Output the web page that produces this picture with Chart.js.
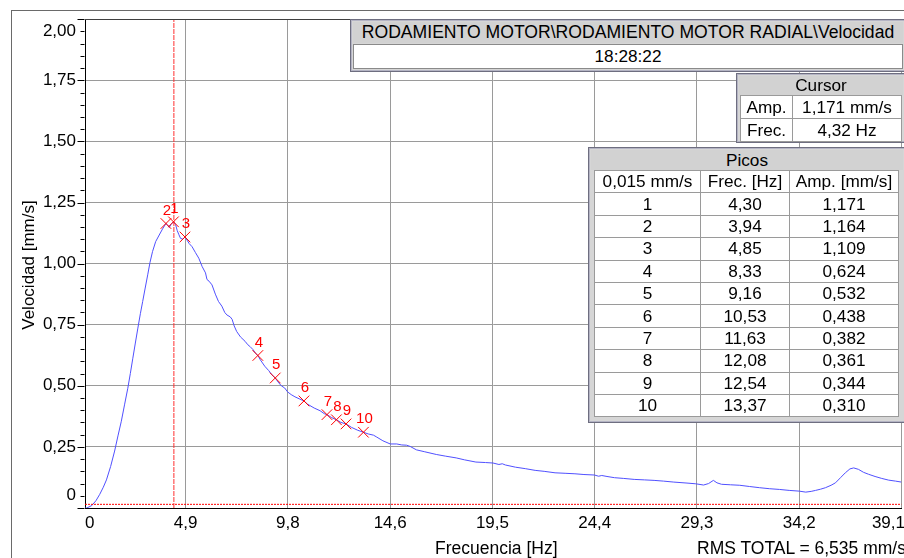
<!DOCTYPE html>
<html>
<head>
<meta charset="utf-8">
<script src="https://cdn.jsdelivr.net/npm/chart.js@4.4.1/dist/chart.umd.min.js"></script>
<style>
html,body{margin:0;padding:0;background:#fff;overflow:hidden;width:904px;height:558px;}
#c{position:absolute;left:0;top:0;width:910px;height:558px;}
#frame{position:absolute;left:11px;top:10px;width:900px;height:560px;border-left:1px solid #6a6a6a;border-top:1px solid #6a6a6a;pointer-events:none;}
.txt{position:absolute;font:17.5px 'Liberation Sans',Arial,sans-serif;line-height:20px;color:#000;white-space:nowrap;}
#ytitle{left:-71px;top:255px;width:200px;text-align:center;font-size:17px;transform:rotate(-90deg);transform-origin:50% 50%;}
.box{position:absolute;background:#d6d6d6;border:1px solid #6e6e80;box-shadow:inset 0 0 0 1px #b4b4c4;box-sizing:border-box;font:17.2px 'Liberation Sans',Arial,sans-serif;color:#000;}
.hd{position:absolute;background:#d2d2d2;text-align:center;white-space:nowrap;}
.box table{position:absolute;border-collapse:collapse;table-layout:fixed;}
.box td{border:1px solid #9a9a9a;background:#fff;text-align:center;padding:0;white-space:nowrap;overflow:hidden;}
</style>
</head>
<body>
<canvas id="c" width="910" height="558"></canvas>
<div id="frame"></div>
<div class="txt" id="ytitle">Velocidad [mm/s]</div>
<div class="txt" style="left:435px;top:538px;">Frecuencia [Hz]</div>
<div class="txt" style="left:697px;top:538px;">RMS TOTAL = 6,535 mm/s</div>

<div class="box" style="left:350px;top:19px;width:556px;height:53px;">
  <div class="hd" id="titleHd" style="left:2px;top:2px;width:550px;height:21px;line-height:21px;font-size:17.6px;"></div>
  <div id="titleTime" style="position:absolute;left:2px;top:24px;width:548px;height:23px;line-height:23px;background:#fff;border:1px solid #8a8a8a;text-align:center;"></div>
</div>

<div class="box" style="left:736px;top:73px;width:170px;height:70px;">
  <div class="hd" style="left:2px;top:2px;width:164px;height:19px;line-height:19px;">Cursor</div>
  <table id="curTbl" style="left:3px;top:21px;width:161px;">
    <colgroup><col style="width:52px"><col style="width:109px"></colgroup>
  </table>
</div>

<div class="box" style="left:588px;top:147px;width:318px;height:276px;">
  <div class="hd" style="left:2px;top:2px;width:312px;height:20px;line-height:20px;">Picos</div>
  <table id="pkTbl" style="left:5px;top:22px;width:304px;">
    <colgroup><col style="width:106px"><col style="width:89px"><col style="width:109px"></colgroup>
  </table>
</div>

<script>
// ---------- data ----------
const freqHz = [0.08,0.16,0.40,0.60,0.78,0.95,1.10,1.30,1.49,1.65,1.81,1.97,2.12,2.24,2.36,2.48,2.60,2.72,2.83,2.95,3.07,3.18,3.30,3.45,3.62,3.78,3.94,4.02,4.10,4.18,4.30,4.40,4.48,4.56,4.64,4.75,4.85,4.95,5.05,5.19,5.35,5.51,5.67,5.83,5.90,6.00,6.14,6.30,6.45,6.61,6.75,6.85,7.01,7.10,7.20,7.32,7.50,7.72,7.85,7.95,8.10,8.20,8.33,8.45,8.66,8.85,9.00,9.16,9.30,9.45,9.61,9.75,9.92,10.10,10.30,10.53,10.70,11.02,11.30,11.50,11.63,11.85,12.08,12.30,12.54,12.80,13.10,13.37,13.60,13.85,14.01,14.30,14.65,14.96,15.20,15.43,15.60,15.90,16.30,16.85,17.30,17.80,18.20,18.74,19.20,19.56,19.84,20.00,20.15,20.63,21.10,21.57,22.00,22.52,23.00,23.47,23.90,24.40,24.60,24.75,25.00,25.36,25.80,26.30,26.80,27.25,27.70,28.19,28.82,29.24,29.61,29.85,30.08,30.25,30.47,30.90,31.34,31.80,32.29,32.75,33.23,33.70,34.18,34.49,34.75,34.96,35.20,35.43,35.70,35.91,36.15,36.38,36.60,36.78,37.01,37.25,37.49,37.80,38.12,38.45,38.78,39.06];
const velMms = [0.000,0.000,0.010,0.030,0.056,0.085,0.115,0.170,0.233,0.295,0.355,0.425,0.490,0.550,0.613,0.675,0.736,0.795,0.845,0.900,0.954,1.005,1.049,1.090,1.117,1.142,1.164,1.158,1.148,1.160,1.171,1.160,1.135,1.118,1.103,1.100,1.109,1.096,1.082,1.069,1.045,1.022,0.988,0.962,0.935,0.928,0.913,0.875,0.845,0.826,0.800,0.790,0.782,0.772,0.745,0.722,0.700,0.682,0.668,0.661,0.648,0.635,0.624,0.606,0.580,0.562,0.545,0.532,0.515,0.500,0.491,0.475,0.464,0.455,0.447,0.438,0.425,0.409,0.398,0.386,0.382,0.370,0.361,0.350,0.344,0.330,0.318,0.310,0.303,0.298,0.290,0.275,0.262,0.262,0.258,0.257,0.252,0.238,0.230,0.219,0.212,0.205,0.197,0.188,0.186,0.184,0.178,0.181,0.176,0.167,0.161,0.154,0.150,0.144,0.142,0.140,0.137,0.135,0.130,0.133,0.129,0.124,0.121,0.117,0.115,0.113,0.110,0.106,0.102,0.099,0.094,0.100,0.113,0.103,0.097,0.095,0.093,0.088,0.083,0.079,0.076,0.072,0.069,0.065,0.068,0.072,0.077,0.083,0.093,0.103,0.124,0.144,0.160,0.164,0.158,0.146,0.138,0.129,0.121,0.114,0.110,0.106];

const peakFreq = [4.30,3.94,4.85,8.33,9.16,10.53,11.63,12.08,12.54,13.37];
const peakAmp  = [1.171,1.164,1.109,0.624,0.532,0.438,0.382,0.361,0.344,0.310];

const cursorFreq = 4.32;
const cursorAmp = 1.171;
const peakThreshold = 0.015;

const titleText = 'RODAMIENTO MOTOR\\RODAMIENTO MOTOR RADIAL\\Velocidad';
const timeText = '18:28:22';

const xTickValues = [0.076,4.8828,9.7656,14.6484,19.5313,24.4141,29.2969,34.1797,39.0625];
const xTickLabels = ['0','4,9','9,8','14,6','19,5','24,4','29,3','34,2','39,1'];
const yTickValues = [0.05,0.25,0.50,0.75,1.00,1.25,1.50,1.75,1.95];
const yTickLabels = ['0','0,25','0,50','0,75','1,00','1,25','1,50','1,75','2,00'];
const yMinorStep = 0.05;

// ---------- boxes ----------
const fmt = (v,d)=>v.toFixed(d).replace('.',',');
document.getElementById('titleHd').textContent = titleText;
document.getElementById('titleTime').textContent = timeText;
const cur = document.getElementById('curTbl');
[['Amp.', fmt(cursorAmp,3)+' mm/s'],['Frec.', fmt(cursorFreq,2)+' Hz']].forEach(r=>{
  const tr=document.createElement('tr'); tr.style.height='23px';
  r.forEach(c=>{const td=document.createElement('td'); td.textContent=c; tr.appendChild(td);});
  cur.appendChild(tr);
});
const pk = document.getElementById('pkTbl');
const rows = [[fmt(peakThreshold,3)+' mm/s','Frec. [Hz]','Amp. [mm/s]']];
peakFreq.forEach((f,i)=>rows.push([String(i+1), fmt(f,2), fmt(peakAmp[i],3)]));
rows.forEach(r=>{
  const tr=document.createElement('tr'); tr.style.height='22.4px';
  r.forEach(c=>{const td=document.createElement('td'); td.textContent=c; tr.appendChild(td);});
  pk.appendChild(tr);
});

// ---------- chart ----------
const FONT = "'Liberation Sans', Arial, sans-serif";
const xMin = xTickValues[0], xMax = xTickValues[xTickValues.length-1];

const extras = {
  id:'extras',
  afterDraw(chart){
    const ctx = chart.ctx, ca = chart.chartArea, ys = chart.scales.y;
    ctx.save();
    ctx.strokeStyle = '#404040'; ctx.lineWidth = 1;
    ctx.beginPath(); ctx.moveTo(ca.left, Math.round(ca.top)+0.5); ctx.lineTo(ca.right, Math.round(ca.top)+0.5); ctx.stroke();
    ctx.strokeStyle = '#000';
    const x0 = Math.round(ca.left)-0.5;
    for (let k=0; k<=Math.round(2/yMinorStep); k++){
      const v = k*yMinorStep;
      const major = (k % 5 === 0);
      const py = Math.round(ys.getPixelForValue(v))+0.5;
      ctx.beginPath(); ctx.moveTo(x0-(major?7:4), py); ctx.lineTo(x0, py); ctx.stroke();
    }
    ctx.fillStyle = '#000';
    ctx.font = '17px ' + FONT;
    ctx.textAlign = 'right'; ctx.textBaseline = 'middle';
    ctx.fillText(xTickLabels[xTickLabels.length-1], 905, ca.bottom + 15);
    const meta = chart.getDatasetMeta(1);
    ctx.fillStyle = '#ff0000';
    ctx.font = '15px ' + FONT;
    ctx.textAlign = 'center'; ctx.textBaseline = 'middle';
    meta.data.forEach((pt,i)=>{ ctx.fillText(String(i+1), pt.x+1, pt.y-13); });
    ctx.restore();
  }
};

new Chart(document.getElementById('c'), {
  type:'line',
  data:{
    datasets:[
      {label:'Velocidad', data:freqHz.map((f,i)=>({x:f,y:velMms[i]})), borderColor:'#5050ff', borderWidth:1, pointRadius:0, tension:0, order:2},
      {type:'scatter', label:'Picos', data:peakFreq.map((f,i)=>({x:f,y:peakAmp[i]})), pointStyle:'crossRot', pointRadius:7.5, borderColor:'#ff0000', backgroundColor:'#ff0000', borderWidth:1, showLine:false, order:0},
      {label:'Cursor', data:[{x:cursorFreq,y:0},{x:cursorFreq,y:2}], borderColor:'#ff3030', borderWidth:1, borderDash:[5,1], pointRadius:0, order:1},
      {label:'Umbral', data:[{x:xMin,y:peakThreshold},{x:xMax,y:peakThreshold}], borderColor:'#ff0000', borderWidth:1, borderDash:[2,1], pointRadius:0, order:1}
    ]
  },
  options:{
    responsive:false, animation:false, devicePixelRatio:1,
    layout:{padding:{left:0,top:17,right:0,bottom:0}},
    plugins:{legend:{display:false}, tooltip:{enabled:false}},
    scales:{
      x:{
        type:'linear', min:xMin, max:xMax,
        afterBuildTicks(s){ s.ticks = xTickValues.map(v=>({value:v})); },
        afterFit(s){ s.height = 50; s.paddingRight = 0; s.paddingLeft = 0; },
        ticks:{autoSkip:false, maxRotation:0, minRotation:0, align:'inner', padding:5, color:'#000', font:{family:FONT,size:17},
          callback:(v,i)=> i===xTickLabels.length-1 ? '' : xTickLabels[i]},
        grid:{drawTicks:false, color:'#9a9a9a', lineWidth:1},
        border:{display:true, color:'#000', width:1}
      },
      y:{
        type:'linear', min:0, max:2,
        afterBuildTicks(s){ s.ticks = yTickValues.map(v=>({value:v})); },
        afterFit(s){ s.width = 85; },
        ticks:{autoSkip:false, padding:9, color:'#000', font:{family:FONT,size:17},
          callback:(v,i)=>yTickLabels[i]},
        grid:{drawTicks:false, color:(c)=> (c.index===0 || c.index===yTickValues.length-1) ? 'rgba(0,0,0,0)' : '#9a9a9a', lineWidth:1},
        border:{display:true, color:'#000', width:1}
      }
    }
  },
  plugins:[extras]
});
</script>
</body>
</html>
